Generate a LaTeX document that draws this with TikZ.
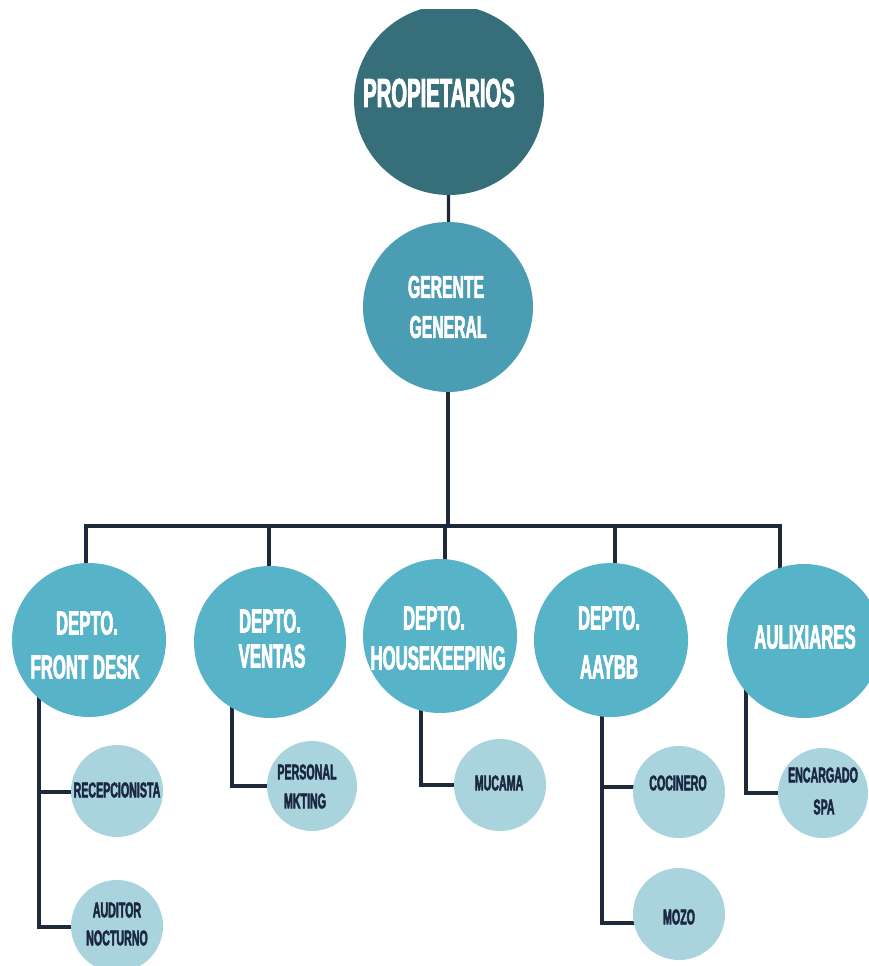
\documentclass[tikz,border=0pt]{standalone}
\usepackage{fontspec}
\newfontfamily\bebas{Liberation Sans}[FakeStretch=0.5,FakeBold=2]
\definecolor{propC}{HTML}{366E7A}
\definecolor{gerC}{HTML}{4A9DB2}
\definecolor{depC}{HTML}{56B3C8}
\definecolor{subC}{HTML}{A9D4DE}
\definecolor{lineC}{HTML}{1E2A3A}
\definecolor{txtC}{HTML}{1A2740}
\pgfdeclarelayer{bg}
\pgfsetlayers{bg,main}
\tikzset{
  circ/.style={circle,inner sep=0pt,draw=none},
  conn/.style={draw=lineC,line width=3.2pt},
  tbig/.style={inner sep=0pt,text=white,font=\bebas\bfseries\fontsize{40.5}{44}\selectfont},
  tmid/.style={inner sep=0pt,text=white,font=\bebas\bfseries\fontsize{31.5}{36}\selectfont},
  tdep/.style={inner sep=0pt,text=white,font=\bebas\bfseries\fontsize{33.5}{38}\selectfont},
  tsub/.style={inner sep=0pt,text=txtC,font=\bebas\bfseries\fontsize{21.3}{25}\selectfont},
}
\begin{document}
\begin{tikzpicture}[x=1pt,y=-1pt]
\useasboundingbox (0,0) rectangle (869,966);
% top circle, clipped at the top
\begin{scope}
\clip (0,10) rectangle (869,966);
\node[circ,fill=propC,minimum size=190pt] (prop) at (449,100) {};
\end{scope}
\node[circ,fill=gerC,minimum size=170pt] (ger) at (448,307) {};
% departments
\node[circ,fill=depC,minimum size=154pt] (fd) at (89,640) {};
\node[circ,fill=depC,minimum size=152pt] (ven) at (270,642) {};
\node[circ,fill=depC,minimum size=154pt] (hk) at (440,636) {};
\node[circ,fill=depC,minimum size=154pt] (ab) at (611,640) {};
\node[circ,fill=depC,minimum size=154pt] (aux) at (804,641) {};
% staff
\node[circ,fill=subC,minimum size=92pt] (rec) at (117,791) {};
\node[circ,fill=subC,minimum size=92pt] (aud) at (117,926) {};
\node[circ,fill=subC,minimum size=90pt] (pers) at (312,786) {};
\node[circ,fill=subC,minimum size=92pt] (muc) at (500,785) {};
\node[circ,fill=subC,minimum size=92pt] (coc) at (679,792) {};
\node[circ,fill=subC,minimum size=92pt] (mozo) at (679,914) {};
\node[circ,fill=subC,minimum size=90pt] (enc) at (823,793) {};
% texts
\node[tbig] (tprop) at (439,93) {PROPIETARIOS};
\node[tmid] (tger1) at (446,287) {GERENTE};
\node[tmid] (tger2) at (448,327) {GENERAL};
\node[tdep] (tfd1) at (87,623) {DEPTO.};
\node[tdep] (tfd2) at (85,667) {FRONT DESK};
\node[tdep] (tven1) at (270,621) {DEPTO.};
\node[tdep] (tven2) at (272,656) {VENTAS};
\node[tdep] (thk1) at (434,618) {DEPTO.};
\node[tdep] (thk2) at (438,658) {HOUSEKEEPING};
\node[tdep] (tab1) at (609,618) {DEPTO.};
\node[tdep] (tab2) at (609,667) {AAYBB};
\node[tdep] (taux) at (805,637) {AULIXIARES};
\node[tsub] (trec) at (117,790) {RECEPCIONISTA};
\node[tsub] (taud1) at (117,910) {AUDITOR};
\node[tsub] (taud2) at (117,938) {NOCTURNO};
\node[tsub] (tpers1) at (307,772) {PERSONAL};
\node[tsub] (tpers2) at (305,801) {MKTING};
\node[tsub] (tmuc) at (499,783) {MUCAMA};
\node[tsub] (tcoc) at (678,783) {COCINERO};
\node[tsub] (tmozo) at (679,917) {MOZO};
\node[tsub] (tenc1) at (823,775) {ENCARGADO};
\node[tsub] (tenc2) at (824,807) {SPA};
% connector coordinates
\coordinate (bus) at (448,526);
\coordinate (busL) at (86,526);
\coordinate (busR) at (780,526);
\coordinate (d2) at (269,526);
\coordinate (d3) at (445,526);
\coordinate (d4) at (615,526);
\coordinate (fdv) at (39,640);
\coordinate (venv) at (232,642);
\coordinate (hkv) at (421,636);
\coordinate (abv) at (602,640);
\coordinate (ab1) at (602,787);
\coordinate (ab2) at (602,923);
\coordinate (auxv) at (746,641);
\coordinate (fd1) at (39,792);
\coordinate (fd2) at (39,927);
\begin{pgfonlayer}{bg}
\draw[conn] (prop) -- (ger);
\draw[conn] (ger) -- (bus);
\draw[conn,line cap=rect] (busL) -- (busR);
\draw[conn] (busL) -- (busL |- fd.center);
\draw[conn] (d2) -- (d2 |- ven.center);
\draw[conn] (d3) -- (d3 |- hk.center);
\draw[conn] (d4) -- (d4 |- ab.center);
\draw[conn] (busR) -- (busR |- aux.center);
% front desk
\draw[conn] (fdv) -- (fd2) -- (fd2 -| aud.center);
\draw[conn] (fd1) -- (fd1 -| rec.center);
% ventas
\draw[conn] (venv) |- (pers.center);
% housekeeping
\draw[conn] (hkv) |- (muc.center);
% aaybb
\draw[conn] (abv) -- (ab2) -- (ab2 -| mozo.center);
\draw[conn] (ab1) -- (ab1 -| coc.center);
% auxiliares
\draw[conn] (auxv) |- (enc.center);
\end{pgfonlayer}
\end{tikzpicture}
\end{document}
